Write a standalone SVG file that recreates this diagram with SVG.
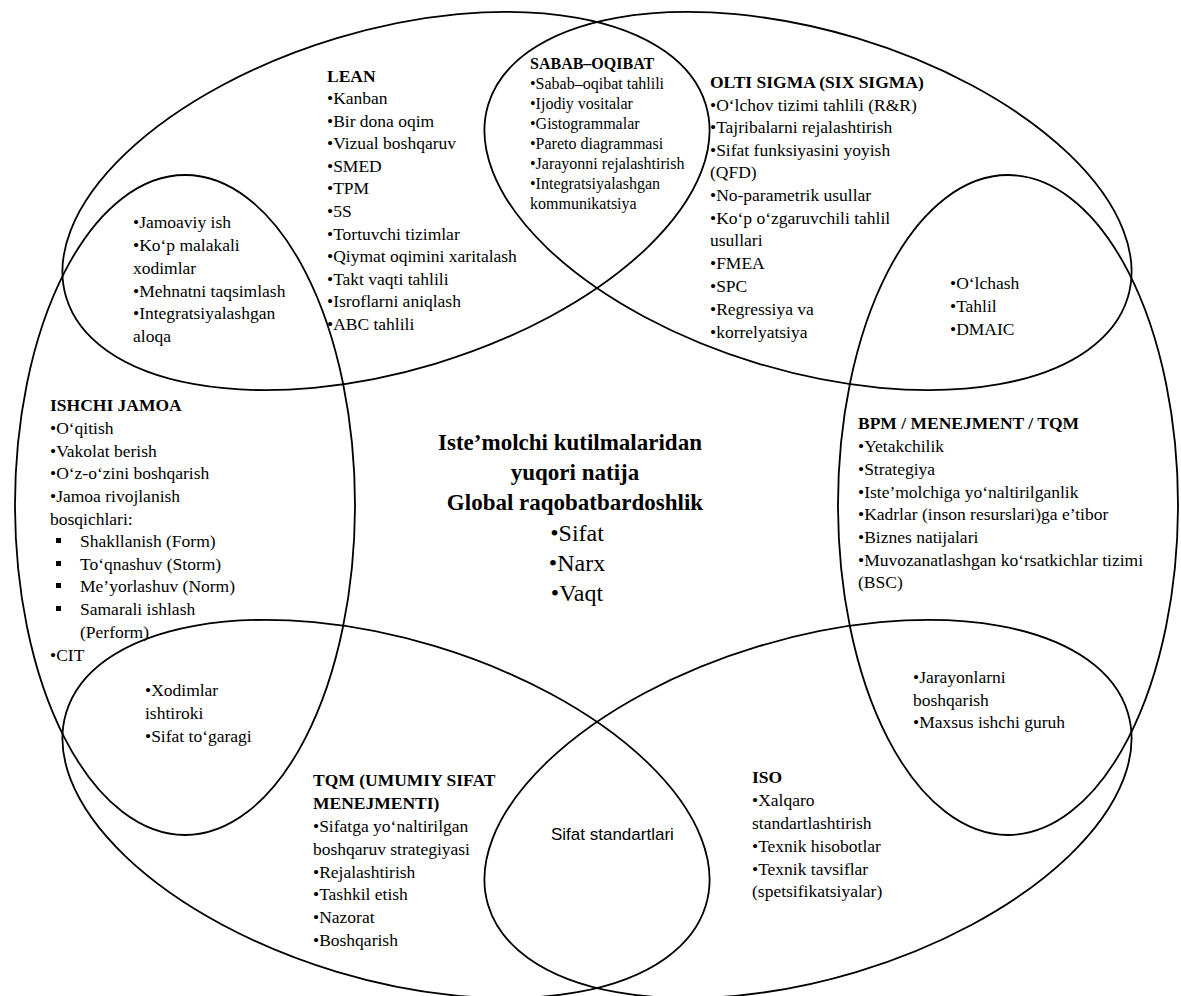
<svg xmlns="http://www.w3.org/2000/svg" width="1181" height="996" viewBox="0 0 1181 996">
<style>
.sh{fill:none;stroke:#000;stroke-width:1.8}
text{font-family:"Liberation Serif","Times New Roman",serif;fill:#000}
.t{font-size:17.5px}
.h{font-size:17.5px;font-weight:bold}
.s{font-size:16px}
.sh2{font-size:16px;font-weight:bold}
.cb{font-size:23px;font-weight:bold;text-anchor:middle}
.cr{font-size:24px;text-anchor:middle}
.ss{font-family:"Liberation Sans",Arial,sans-serif;font-size:17px}
</style>
<rect width="1181" height="996" fill="#fff"/>
<g id="shapes">
<ellipse class="sh" cx="386" cy="201" rx="334" ry="170" transform="rotate(-16.75 386 201)"/>
<ellipse class="sh" cx="808" cy="201" rx="334" ry="170" transform="rotate(16.75 808 201)"/>
<ellipse class="sh" cx="185" cy="505" rx="170" ry="330"/>
<ellipse class="sh" cx="1008" cy="505" rx="170" ry="330"/>
<ellipse class="sh" cx="386" cy="809" rx="334" ry="170" transform="rotate(16.75 386 809)"/>
<ellipse class="sh" cx="808" cy="809" rx="334" ry="170" transform="rotate(-16.75 808 809)"/>
</g>
<g id="connectors"/>
<g id="lean">
<text class="h" x="327" y="82">LEAN</text>
<text class="t" x="327" y="104">•Kanban</text>
<text class="t" x="327" y="127">•Bir dona oqim</text>
<text class="t" x="327" y="149">•Vizual boshqaruv</text>
<text class="t" x="327" y="172">•SMED</text>
<text class="t" x="327" y="194">•TPM</text>
<text class="t" x="327" y="217">•5S</text>
<text class="t" x="327" y="240">•Tortuvchi tizimlar</text>
<text class="t" x="327" y="262">•Qiymat oqimini xaritalash</text>
<text class="t" x="327" y="285">•Takt vaqti tahlili</text>
<text class="t" x="327" y="307">•Isroflarni aniqlash</text>
<text class="t" x="327" y="330">•ABC tahlili</text>
</g>
<g id="sabab">
<text class="sh2" x="530" y="69">SABAB–OQIBAT</text>
<text class="s" x="530" y="89">•Sabab–oqibat tahlili</text>
<text class="s" x="530" y="109">•Ijodiy vositalar</text>
<text class="s" x="530" y="129">•Gistogrammalar</text>
<text class="s" x="530" y="149">•Pareto diagrammasi</text>
<text class="s" x="530" y="169">•Jarayonni rejalashtirish</text>
<text class="s" x="530" y="189">•Integratsiyalashgan</text>
<text class="s" x="530" y="209">kommunikatsiya</text>
</g>
<g id="sigma">
<text class="h" x="710" y="88">OLTI SIGMA (SIX SIGMA)</text>
<text class="t" x="710" y="111">•O‘lchov tizimi tahlili (R&amp;R)</text>
<text class="t" x="710" y="133">•Tajribalarni rejalashtirish</text>
<text class="t" x="710" y="156">•Sifat funksiyasini yoyish</text>
<text class="t" x="710" y="178">(QFD)</text>
<text class="t" x="710" y="201">•No-parametrik usullar</text>
<text class="t" x="710" y="224">•Ko‘p o‘zgaruvchili tahlil</text>
<text class="t" x="710" y="246">usullari</text>
<text class="t" x="710" y="269">•FMEA</text>
<text class="t" x="710" y="292">•SPC</text>
<text class="t" x="710" y="315">•Regressiya va</text>
<text class="t" x="710" y="338">•korrelyatsiya</text>
</g>
<g id="lean-ishchi">
<text class="t" x="133" y="228">•Jamoaviy ish</text>
<text class="t" x="133" y="251">•Ko‘p malakali</text>
<text class="t" x="133" y="274">xodimlar</text>
<text class="t" x="133" y="297">•Mehnatni taqsimlash</text>
<text class="t" x="133" y="319">•Integratsiyalashgan</text>
<text class="t" x="133" y="342">aloqa</text>
</g>
<g id="sigma-bpm">
<text class="t" x="950" y="289">•O‘lchash</text>
<text class="t" x="950" y="312">•Tahlil</text>
<text class="t" x="950" y="335">•DMAIC</text>
</g>
<g id="ishchi">
<text class="h" x="50" y="411">ISHCHI JAMOA</text>
<text class="t" x="50" y="434">•O‘qitish</text>
<text class="t" x="50" y="457">•Vakolat berish</text>
<text class="t" x="50" y="479">•O‘z-o‘zini boshqarish</text>
<text class="t" x="50" y="502">•Jamoa rivojlanish</text>
<text class="t" x="50" y="525">bosqichlari:</text>
<rect x="56" y="538" width="5" height="5"/>
<text class="t" x="80" y="547">Shakllanish (Form)</text>
<rect x="56" y="561" width="5" height="5"/>
<text class="t" x="80" y="570">To‘qnashuv (Storm)</text>
<rect x="56" y="583" width="5" height="5"/>
<text class="t" x="80" y="592">Me’yorlashuv (Norm)</text>
<rect x="56" y="606" width="5" height="5"/>
<text class="t" x="80" y="615">Samarali ishlash</text>
<text class="t" x="80" y="638">(Perform)</text>
<text class="t" x="50" y="661">•CIT</text>
</g>
<g id="bpm">
<text class="h" x="858" y="429">BPM / MENEJMENT / TQM</text>
<text class="t" x="858" y="452">•Yetakchilik</text>
<text class="t" x="858" y="475">•Strategiya</text>
<text class="t" x="858" y="498">•Iste’molchiga yo‘naltirilganlik</text>
<text class="t" x="858" y="520">•Kadrlar (inson resurslari)ga e’tibor</text>
<text class="t" x="858" y="543">•Biznes natijalari</text>
<text class="t" x="858" y="566">•Muvozanatlashgan ko‘rsatkichlar tizimi</text>
<text class="t" x="858" y="588">(BSC)</text>
</g>
<g id="center">
<text class="cb" x="570" y="450">Iste’molchi kutilmalaridan</text>
<text class="cb" x="575" y="480">yuqori natija</text>
<text class="cb" x="575" y="510">Global raqobatbardoshlik</text>
<text class="cr" x="577" y="541">•Sifat</text>
<text class="cr" x="577" y="571">•Narx</text>
<text class="cr" x="577" y="601">•Vaqt</text>
</g>
<g id="ishchi-tqm">
<text class="t" x="145" y="696">•Xodimlar</text>
<text class="t" x="145" y="719">ishtiroki</text>
<text class="t" x="145" y="742">•Sifat to‘garagi</text>
</g>
<g id="bpm-iso">
<text class="t" x="913" y="683">•Jarayonlarni</text>
<text class="t" x="913" y="706">boshqarish</text>
<text class="t" x="913" y="728">•Maxsus ishchi guruh</text>
</g>
<g id="tqm">
<text class="h" x="313" y="786">TQM (UMUMIY SIFAT</text>
<text class="h" x="313" y="809">MENEJMENTI)</text>
<text class="t" x="313" y="832">•Sifatga yo‘naltirilgan</text>
<text class="t" x="313" y="855">boshqaruv strategiyasi</text>
<text class="t" x="313" y="878">•Rejalashtirish</text>
<text class="t" x="313" y="900">•Tashkil etish</text>
<text class="t" x="313" y="923">•Nazorat</text>
<text class="t" x="313" y="946">•Boshqarish</text>
</g>
<g id="iso">
<text class="h" x="752" y="783">ISO</text>
<text class="t" x="752" y="806">•Xalqaro</text>
<text class="t" x="752" y="829">standartlashtirish</text>
<text class="t" x="752" y="852">•Texnik hisobotlar</text>
<text class="t" x="752" y="875">•Texnik tavsiflar</text>
<text class="t" x="752" y="897">(spetsifikatsiyalar)</text>
</g>
<g id="tqm-iso">
<text class="ss" x="551" y="840">Sifat standartlari</text>
</g>
</svg>
